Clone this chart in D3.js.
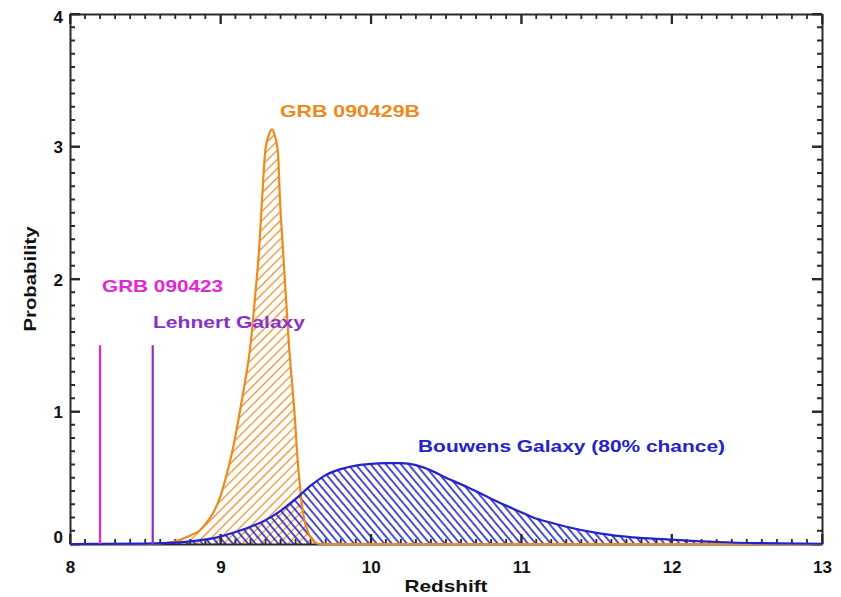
<!DOCTYPE html>
<html>
<head>
<meta charset="utf-8">
<script src="https://cdn.jsdelivr.net/npm/d3@7"></script>
<style>
  html, body { margin: 0; padding: 0; background: #fff; }
  svg { display: block; }
  text { font-family: "Liberation Sans", Arial, Helvetica, sans-serif; font-weight: bold; }
</style>
</head>
<body>
<svg id="chart" width="841" height="597"></svg>
<script>
// ---------------- data ----------------
const xTickLabels = [8, 9, 10, 11, 12, 13];
const yTickLabels = [0, 1, 2, 3, 4];

// GRB 090429B photometric redshift probability (orange)
const grbZ = [8.0, 8.5, 8.6, 8.7, 8.75, 8.8, 8.86, 8.9, 8.95, 9.0, 9.05, 9.085, 9.12, 9.16, 9.2, 9.23, 9.257, 9.277, 9.297, 9.32, 9.343, 9.362, 9.383, 9.396, 9.416, 9.436, 9.456, 9.476, 9.496, 9.51, 9.53, 9.55, 9.58, 9.62, 9.66, 13.0];
const grbP = [0, 0, 0.005, 0.02, 0.04, 0.065, 0.10, 0.15, 0.23, 0.36, 0.56, 0.73, 0.94, 1.2, 1.5, 1.86, 2.22, 2.6, 2.95, 3.08, 3.13, 3.08, 2.95, 2.6, 2.22, 1.86, 1.5, 1.22, 0.94, 0.69, 0.43, 0.23, 0.10, 0.02, 0, 0];

// Bouwens galaxy redshift probability (blue)
const bouZ = [8.0, 8.5, 8.8, 8.98, 9.1, 9.2, 9.3, 9.4, 9.5, 9.6, 9.7, 9.8, 9.9, 10.0, 10.1, 10.2, 10.3, 10.41, 10.5, 10.64, 10.75, 10.86, 11.0, 11.08, 11.2, 11.3, 11.52, 11.74, 11.97, 12.3, 12.6, 13.0];
const bouP = [0, 0.003, 0.02, 0.05, 0.09, 0.13, 0.18, 0.25, 0.34, 0.44, 0.52, 0.565, 0.592, 0.605, 0.61, 0.61, 0.595, 0.55, 0.5, 0.43, 0.37, 0.31, 0.24, 0.2, 0.16, 0.13, 0.08, 0.05, 0.035, 0.015, 0.006, 0.002];

// single-redshift objects (vertical lines)
const markerNames = ["GRB 090423", "Lehnert Galaxy"];
const markerZ = [8.2, 8.55];
const markerP = [1.5, 1.5];

// annotation text
const labelTexts = ["GRB 090429B", "GRB 090423", "Lehnert Galaxy", "Bouwens Galaxy (80% chance)"];
const labelZ = [9.396, 8.213, 8.552, 10.314];
const labelP = [3.223, 1.902, 1.630, 0.694];

// ---------------- styles / layout ----------------
const W = 841, H = 597;
const margin = { left: 70, right: 19, top: 14, bottom: 53 };
const orange = "#f0881c";
const blue = "#2222d0";
const magenta = "#e524d6";
const purple = "#8a2fcc";
const labelColors = [orange, magenta, purple, blue];
const labelWidths = [140, 121, 152, 307];
const axisColor = "#2a2a2a";

const svg = d3.select("#chart");
const x = d3.scaleLinear().domain([8, 13]).range([margin.left, W - margin.right]);
const y = d3.scaleLinear().domain([0, 4]).range([H - margin.bottom, margin.top]);

// hatch patterns
const defs = svg.append("defs");
function hatch(id, color, spacing, angle, sw) {
  const p = defs.append("pattern")
    .attr("id", id)
    .attr("patternUnits", "userSpaceOnUse")
    .attr("width", spacing).attr("height", spacing)
    .attr("patternTransform", `rotate(${angle})`);
  p.append("line")
    .attr("x1", spacing / 2).attr("y1", -1)
    .attr("x2", spacing / 2).attr("y2", spacing + 1)
    .attr("stroke", color).attr("stroke-width", sw);
}
hatch("hOrange", orange, 6.5, 45, 1.2);
hatch("hBlue", blue, 5.8, -40, 1.6);

const grbData = grbZ.map((z, i) => [z, grbP[i]]);
const bouData = bouZ.map((z, i) => [z, bouP[i]]);

const area = d3.area().x(d => x(d[0])).y0(y(0)).y1(d => y(d[1])).curve(d3.curveMonotoneX);
const line = d3.line().x(d => x(d[0])).y(d => y(d[1])).curve(d3.curveMonotoneX);

// fills
svg.append("path").datum(grbData).attr("d", area).attr("fill", "url(#hOrange)");
svg.append("path").datum(bouData).attr("d", area).attr("fill", "url(#hBlue)");

// axes
const fontSize = 17;
function styleAxis(g) {
  g.select(".domain").attr("stroke", axisColor).attr("stroke-width", 2);
  g.selectAll(".tick line").attr("stroke", axisColor).style("stroke", axisColor).attr("stroke-width", 1.8);
  g.selectAll("text").attr("fill", "#111").style("font-size", fontSize + "px").style("font-weight", "bold")
    .attr("font-family", null);
}
const xMinor = x.ticks(50).filter(v => !xTickLabels.some(t => Math.abs(t - v) < 1e-9));
const yMinor = y.ticks(40).filter(v => !yTickLabels.some(t => Math.abs(t - v) < 1e-9));

const pBottom = H - margin.bottom, pTop = margin.top, pLeft = margin.left, pRight = W - margin.right;

// tick marks (inward, on all four sides), drawn from the scales
const tickLayer = svg.append("g").attr("stroke", axisColor).attr("stroke-width", 1.8);
function xTicks(vals, len) {
  tickLayer.append("g").selectAll("path").data(vals).join("path")
    .attr("d", d => `M${x(d)},${pBottom}V${pBottom - len}M${x(d)},${pTop}V${pTop + len}`);
}
function yTicks(vals, len) {
  tickLayer.append("g").selectAll("path").data(vals).join("path")
    .attr("d", d => `M${pLeft},${y(d)}H${pLeft + len}M${pRight},${y(d)}H${pRight - len}`);
}
xTicks(xMinor, 5); xTicks(xTickLabels, 10);
yTicks(yMinor, 5); yTicks(yTickLabels, 10);

// axes with labels
svg.append("g").attr("transform", `translate(0,${pBottom})`)
  .call(d3.axisBottom(x).tickValues(xTickLabels).tickSize(-10).tickSizeOuter(0).tickPadding(17).tickFormat(d3.format("d")))
  .call(styleAxis);
svg.append("g").attr("transform", `translate(0,${pTop})`)
  .call(d3.axisTop(x).tickValues(xTickLabels).tickSize(-10).tickSizeOuter(0).tickFormat(""))
  .call(styleAxis);
const yAxisG = svg.append("g").attr("transform", `translate(${pLeft},0)`)
  .call(d3.axisLeft(y).tickValues(yTickLabels).tickSize(-10).tickSizeOuter(0).tickPadding(7).tickFormat(d3.format("d")))
  .call(styleAxis);
yAxisG.selectAll(".tick text").attr("y", d => d === 0 ? -7 : (d === 4 ? 3 : 1));
svg.append("g").attr("transform", `translate(${pRight},0)`)
  .call(d3.axisRight(y).tickValues(yTickLabels).tickSize(-10).tickSizeOuter(0).tickFormat(""))
  .call(styleAxis);

// outlines
svg.append("path").datum(grbData).attr("d", line)
  .attr("fill", "none").attr("stroke", orange).attr("stroke-width", 2.2).attr("stroke-linejoin", "round");
svg.append("path").datum(bouData).attr("d", line)
  .attr("fill", "none").attr("stroke", blue).attr("stroke-width", 2.2).attr("stroke-linejoin", "round");

// vertical marker lines
svg.append("g").selectAll("line").data(markerZ).join("line")
  .attr("x1", d => x(d)).attr("x2", d => x(d))
  .attr("y1", y(0)).attr("y2", (d, i) => y(markerP[i]))
  .attr("stroke", (d, i) => i === 0 ? magenta : purple)
  .attr("stroke-width", 2.2);

// annotations
svg.append("g").selectAll("text").data(labelTexts).join("text")
  .attr("x", (d, i) => x(labelZ[i]))
  .attr("y", (d, i) => y(labelP[i]))
  .attr("fill", (d, i) => labelColors[i])
  .style("font-size", fontSize + "px")
  .attr("textLength", (d, i) => labelWidths[i])
  .attr("lengthAdjust", "spacingAndGlyphs")
  .text(d => d);

// axis titles
svg.append("text")
  .attr("x", (pLeft + pRight) / 2).attr("y", 592)
  .attr("text-anchor", "middle")
  .attr("fill", "#111")
  .style("font-size", fontSize + "px")
  .attr("textLength", 83).attr("lengthAdjust", "spacingAndGlyphs")
  .text("Redshift");
svg.append("text")
  .attr("transform", `translate(36,${(pTop + pBottom) / 2}) rotate(-90)`)
  .attr("text-anchor", "middle")
  .attr("fill", "#111")
  .style("font-size", fontSize + "px")
  .attr("textLength", 105).attr("lengthAdjust", "spacingAndGlyphs")
  .text("Probability");
</script>
</body>
</html>
